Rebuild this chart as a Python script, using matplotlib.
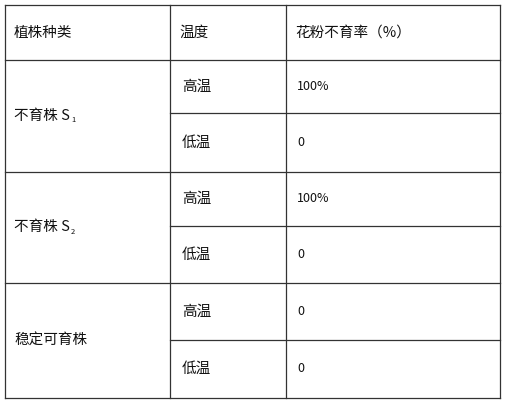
import matplotlib
matplotlib.use("Agg")
import matplotlib.pyplot as plt

plt.rcParams['font.family'] = ['Noto Sans CJK SC', 'DejaVu Sans']

headers = ["植株种类", "温度", "花粉不育率（%）"]
plants = [("不育株 S", "1"), ("不育株 S", "2"), ("稳定可育株", "")]
temps = ["高温", "低温"]
rates = [["100%", "0"], ["100%", "0"], ["0", "0"]]

W, H = 507, 403
fig = plt.figure(figsize=(W/100, H/100), dpi=100)
ax = fig.add_axes([0, 0, 1, 1])
ax.set_xlim(0, W); ax.set_ylim(H, 0); ax.axis('off')

xs = [5, 170, 286, 500]
ys = [5, 60, 113, 172, 226, 283, 340, 398]
lc = '#333333'; lw = 0.9
for x in xs:
    ax.plot([x, x], [ys[0], ys[-1]], color=lc, lw=lw)
for i, y in enumerate(ys):
    x0 = xs[0] if i in (0, 1, 3, 5, 7) else xs[1]
    ax.plot([x0, xs[-1]], [y, y], color=lc, lw=lw)

fs = 10.5
for j, h in enumerate(headers):
    ax.text(xs[j] + 9, (ys[0]+ys[1])/2, h, fontsize=fs, va='center', ha='left', color='#111')
for i, (name, sub) in enumerate(plants):
    yc = (ys[1+2*i] + ys[3+2*i]) / 2
    ax.text(xs[0] + 9, yc, name, fontsize=fs, va='center', ha='left', color='#111')
    if sub:
        ax.text(xs[0] + 9 + 57, yc + 4, sub, fontsize=5.5, va='center', ha='left', color='#111')
    for k in range(2):
        yr = (ys[1+2*i+k] + ys[2+2*i+k]) / 2
        ax.text(xs[1] + 12, yr, temps[k], fontsize=fs, va='center', ha='left', color='#111')
        ax.text(xs[2] + 11, yr, rates[i][k], fontsize=9, va='center', ha='left', color='#111')

fig.savefig("out.png", dpi=100, facecolor='white')
